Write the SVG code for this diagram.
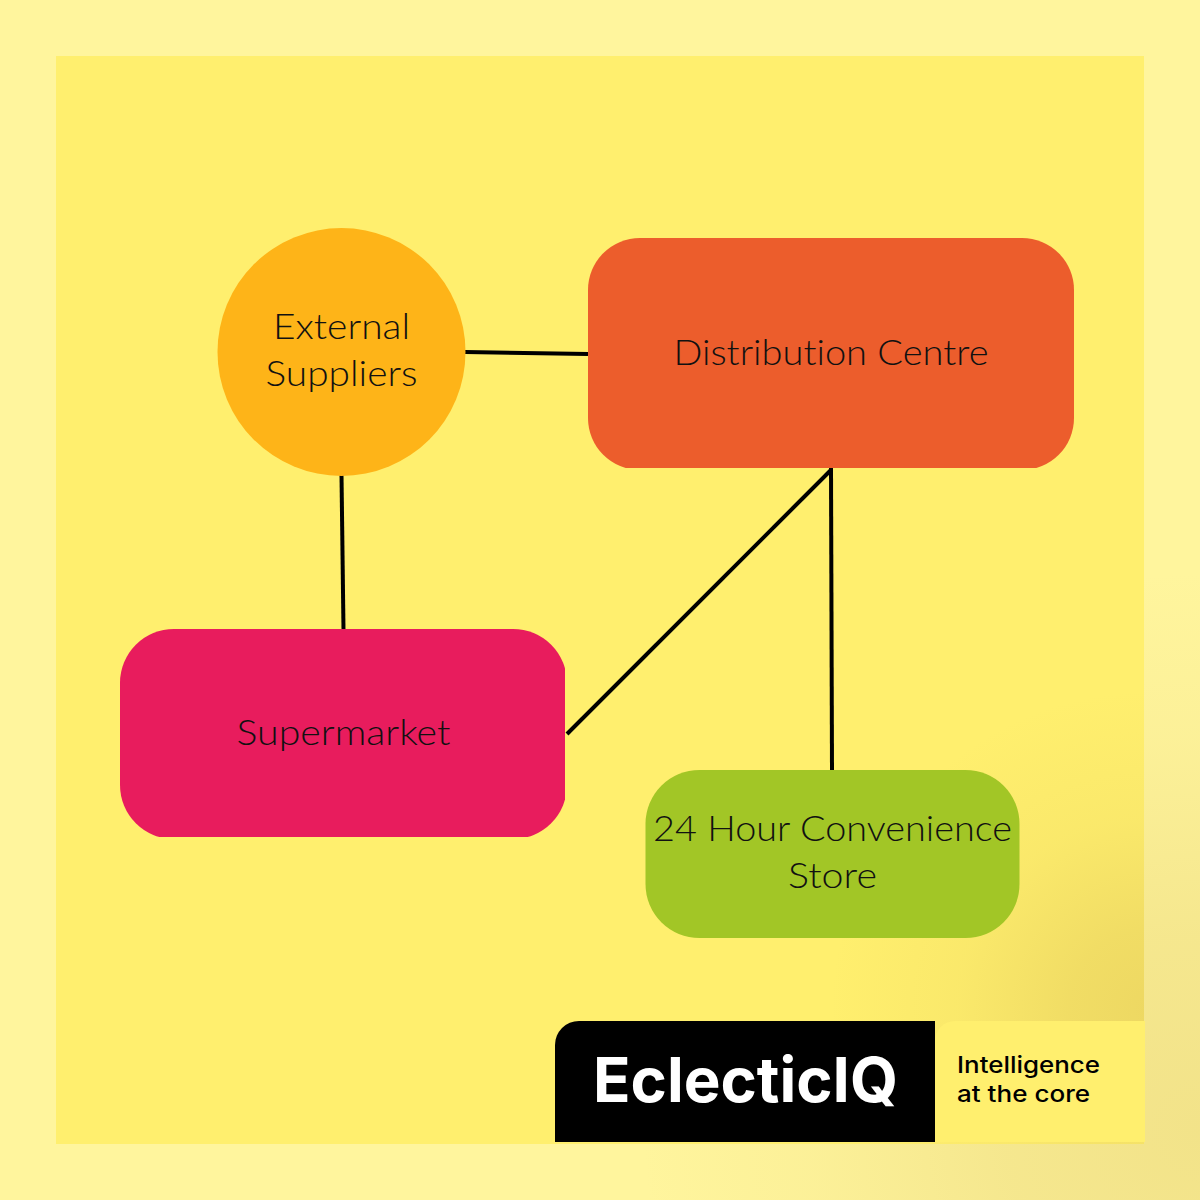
<svg xmlns="http://www.w3.org/2000/svg" width="1200" height="1200" viewBox="0 0 1200 1200">
<defs>
<radialGradient id="shadeOuter" gradientUnits="userSpaceOnUse" cx="1200" cy="1130" r="560">
<stop offset="0" stop-color="#c9a94a" stop-opacity="0.24"/>
<stop offset="0.35" stop-color="#c9a94a" stop-opacity="0.18"/>
<stop offset="0.7" stop-color="#c9a94a" stop-opacity="0.06"/>
<stop offset="1" stop-color="#c9a94a" stop-opacity="0"/>
</radialGradient>
<radialGradient id="shadeInner" gradientUnits="userSpaceOnUse" cx="1150" cy="1010" r="320">
<stop offset="0" stop-color="#c9a94a" stop-opacity="0.33"/>
<stop offset="0.25" stop-color="#c9a94a" stop-opacity="0.26"/>
<stop offset="0.6" stop-color="#c9a94a" stop-opacity="0.09"/>
<stop offset="1" stop-color="#c9a94a" stop-opacity="0"/>
</radialGradient>
<clipPath id="clipDistribution"><rect x="588" y="238" width="486" height="230"/></clipPath>
<clipPath id="clipSupermarket"><rect x="120" y="629" width="445" height="208"/></clipPath>
<style>
text{font-variant-ligatures:none}
.lbl{font-family:"Lato","Liberation Sans",sans-serif;font-weight:300;font-size:35px;fill:#111;text-anchor:middle}
.conn{stroke:#000;stroke-width:4;fill:none}
.tag{font-family:"Inter","Liberation Sans",sans-serif;font-weight:500;font-size:23px;fill:#000}
</style>
</defs>
<rect id="outer" width="1200" height="1200" fill="#fff59d"/>
<rect id="outer-shade" x="640" y="540" width="560" height="660" fill="url(#shadeOuter)"/>
<rect id="inner" x="56" y="56" width="1088" height="1088" fill="#ffef6e"/>
<rect id="inner-shade" x="830" y="690" width="314" height="454" fill="url(#shadeInner)"/>
<g id="connectors">
<line class="conn" x1="465" y1="352" x2="588" y2="354"/>
<line class="conn" x1="341.500" y1="475" x2="343.500" y2="630"/>
<line class="conn" x1="831" y1="470" x2="567" y2="734"/>
<line class="conn" x1="831" y1="468" x2="832" y2="771"/>
</g>
<g id="external-suppliers">
<circle cx="341.500" cy="352" r="124" fill="#feb418"/>
<text class="lbl" x="341.500" y="339" textLength="137" lengthAdjust="spacingAndGlyphs">External</text>
<text class="lbl" x="341.500" y="386" textLength="152" lengthAdjust="spacingAndGlyphs">Suppliers</text>
</g>
<g id="distribution-centre">
<rect x="588" y="238" width="486" height="232" rx="52" fill="#ec5d2c" clip-path="url(#clipDistribution)"/>
<text class="lbl" x="831" y="365" textLength="315" lengthAdjust="spacingAndGlyphs">Distribution Centre</text>
</g>
<g id="supermarket">
<rect x="120" y="629" width="447" height="210" rx="54" fill="#e81c5d" clip-path="url(#clipSupermarket)"/>
<text class="lbl" x="343.500" y="745" textLength="214" lengthAdjust="spacingAndGlyphs">Supermarket</text>
</g>
<g id="convenience-store">
<rect x="645.500" y="770" width="374" height="168" rx="54" fill="#a2c626"/>
<text class="lbl" x="832.500" y="841" textLength="359" lengthAdjust="spacingAndGlyphs">24 Hour Convenience</text>
<text class="lbl" x="832.500" y="888" textLength="89" lengthAdjust="spacingAndGlyphs">Store</text>
</g>
<g id="logo">
<path d="M935 1142V1041a20 20 0 0 1 20-20H1145V1142Z" fill="#ffef6e"/>
<path d="M555 1142V1045a24 24 0 0 1 24-24H935V1142Z" fill="#000"/>
<text x="593" y="1102" font-family="Inter,'Liberation Sans',sans-serif" font-weight="700" font-size="62" fill="#fff" textLength="305" lengthAdjust="spacingAndGlyphs">EclecticIQ</text>
<text class="tag" x="957" y="1073" textLength="143" lengthAdjust="spacingAndGlyphs">Intelligence</text>
<text class="tag" x="957" y="1102" textLength="133" lengthAdjust="spacingAndGlyphs">at the core</text>
</g>
</svg>
